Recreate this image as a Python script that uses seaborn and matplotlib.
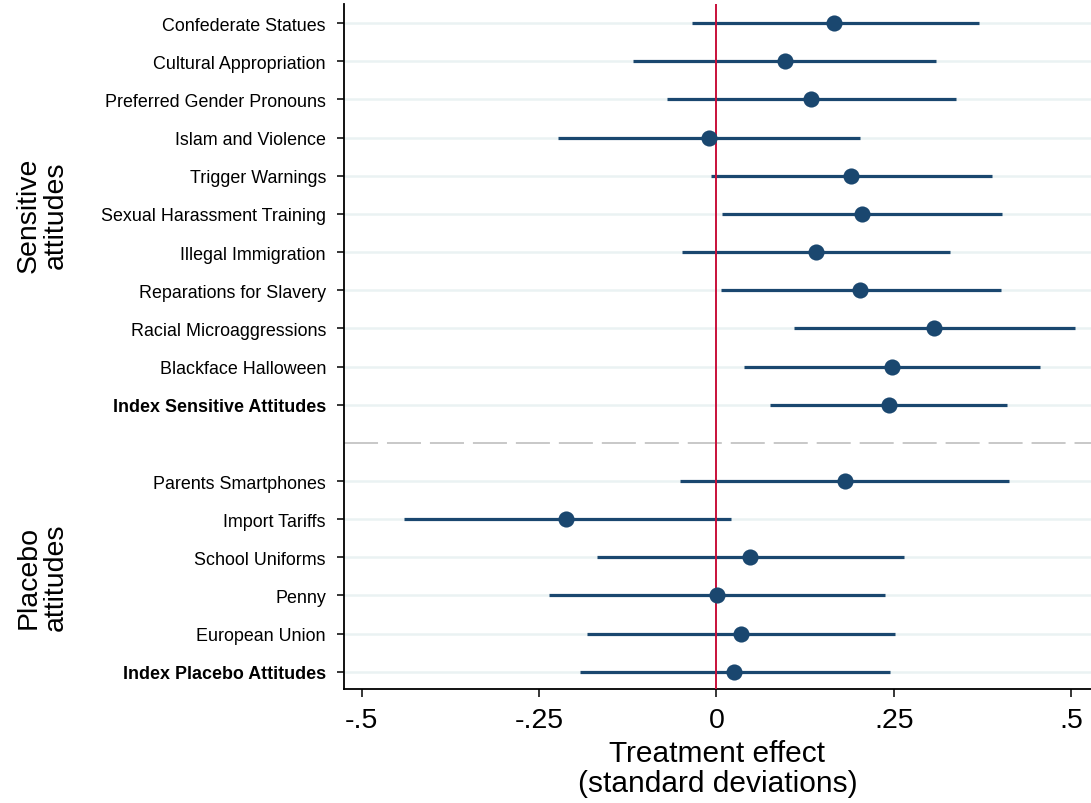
import numpy as np
import pandas as pd
import seaborn as sns
import matplotlib
matplotlib.use("Agg")
import matplotlib.pyplot as plt
from matplotlib.transforms import blended_transform_factory

# Outcome labels, in plotting order (top to bottom)
sensitive_labels = [
    "Confederate Statues", "Cultural Appropriation", "Preferred Gender Pronouns",
    "Islam and Violence", "Trigger Warnings", "Sexual Harassment Training",
    "Illegal Immigration", "Reparations for Slavery", "Racial Microaggressions",
    "Blackface Halloween", "Index Sensitive Attitudes",
]
placebo_labels = [
    "Parents Smartphones", "Import Tariffs", "School Uniforms", "Penny",
    "European Union", "Index Placebo Attitudes",
]

# Point estimates and 95% confidence bounds (standard deviations)
sensitive_est = [0.166, 0.096, 0.134, -0.011, 0.190, 0.205, 0.140, 0.203, 0.306, 0.247, 0.243]
sensitive_lo = [-0.035, -0.117, -0.069, -0.224, -0.007, 0.008, -0.049, 0.006, 0.109, 0.039, 0.076]
sensitive_hi = [0.370, 0.310, 0.338, 0.202, 0.389, 0.403, 0.329, 0.401, 0.505, 0.456, 0.410]

placebo_est = [0.181, -0.212, 0.048, 0.001, 0.034, 0.025]
placebo_lo = [-0.051, -0.441, -0.169, -0.236, -0.183, -0.193]
placebo_hi = [0.412, 0.020, 0.265, 0.238, 0.252, 0.244]

x_ticks = [-0.5, -0.25, 0, 0.25, 0.5]
x_ticklabels = ["-.5", "-.25", "0", ".25", ".5"]
bold_labels = {"Index Sensitive Attitudes", "Index Placebo Attitudes"}

# Row positions: sensitive block, one empty slot, placebo block
n_s, n_p = len(sensitive_labels), len(placebo_labels)
pos_s = list(range(n_s))
gap_pos = n_s
pos_p = list(range(n_s + 1, n_s + 1 + n_p))

df = pd.DataFrame({
    "label": sensitive_labels + placebo_labels,
    "est": sensitive_est + placebo_est,
    "lo": sensitive_lo + placebo_lo,
    "hi": sensitive_hi + placebo_hi,
    "pos": pos_s + pos_p,
    "group": ["Sensitive"] * n_s + ["Placebo"] * n_p,
})

sns.set_style("white")
plt.rcParams["font.family"] = ["Liberation Sans", "DejaVu Sans"]
plt.rcParams["text.color"] = "black"
plt.rcParams["axes.labelcolor"] = "black"
plt.rcParams["xtick.color"] = "black"
plt.rcParams["ytick.color"] = "black"

navy = "#1a476f"
fig = plt.figure(figsize=(10.91, 8.04), dpi=100)
ax = fig.add_axes([0.3153, 0.1418, 0.6847, 0.852])

# Light horizontal guide lines at each row
for p in df["pos"]:
    ax.axhline(p, color="#eaf2f3", lw=1.8, zorder=1)

# Confidence intervals
ax.hlines(df["pos"], df["lo"], df["hi"], color=navy, lw=2.3, zorder=2)

# Zero reference line
ax.axvline(0, color="#c8103a", lw=1.4, zorder=3)

# Separator between the two blocks
ax.axhline(gap_pos, color="#c8c8c8", lw=1.4, dashes=(17.5, 4.6), zorder=1)

# Point estimates
sns.scatterplot(data=df, x="est", y="pos", ax=ax, color=navy, s=135,
                edgecolor=navy, linewidth=0, zorder=4, legend=False)

ax.set_xlim(-0.525, 0.528)
ax.set_ylim(17.45, -0.5)

ax.set_yticks(df["pos"])
ax.set_yticklabels(df["label"], fontsize=12.9)
for t in ax.get_yticklabels():
    if t.get_text() in bold_labels:
        t.set_fontweight("bold")

ax.set_xticks(x_ticks)
ax.set_xticklabels(x_ticklabels, fontsize=20.5)

ax.tick_params(axis="y", direction="out", length=5, width=1.1, color="black", pad=8, left=True)
ax.tick_params(axis="x", direction="out", length=6, width=1.1, color="black", pad=7, bottom=True)

for side in ["top", "right"]:
    ax.spines[side].set_visible(False)
for side in ["left", "bottom"]:
    ax.spines[side].set_color("black")
    ax.spines[side].set_linewidth(1.3)

ax.set_ylabel("")
ax.set_xlabel("Treatment effect\n(standard deviations)", fontsize=21.5, labelpad=4, linespacing=1.1)

# Block labels on the far left
trans = blended_transform_factory(fig.transFigure, ax.transData)
ax.text(0.039, np.mean(pos_s), "Sensitive\nattitudes", transform=trans, rotation=90,
        ha="center", va="center", fontsize=20.5, multialignment="center", linespacing=1.05)
ax.text(0.039, np.mean(pos_p), "Placebo\nattitudes", transform=trans, rotation=90,
        ha="center", va="center", fontsize=20.5, multialignment="center", linespacing=1.05)

fig.savefig("out.png", dpi=100)
